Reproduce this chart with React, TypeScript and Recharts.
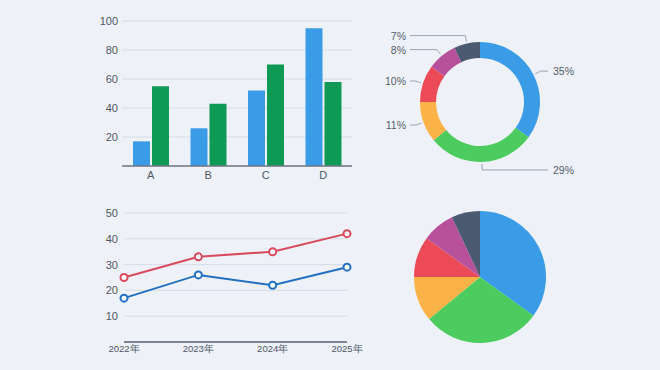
import React from "react";
import {
  BarChart,
  Bar,
  LineChart,
  Line,
  PieChart,
  Pie,
  Cell,
  XAxis,
  YAxis,
  CartesianGrid,
} from "recharts";

const barCategories = ["A", "B", "C", "D"];
const barBlue = [17, 26, 52, 95];
const barGreen = [55, 43, 70, 58];
const barTicks = [20, 40, 60, 80, 100];

const years = ["2022年", "2023年", "2024年", "2025年"];
const lineRed = [25, 33, 35, 42];
const lineBlue = [17, 26, 22, 29];
const lineTicks = [10, 20, 30, 40, 50];

const shareNames = ["blue", "green", "orange", "red", "purple", "slate"];
const shareValues = [35, 29, 11, 10, 8, 7];
const shareColors = ["#3a9be6", "#4ccb5f", "#fbb347", "#ec4a56", "#b8519c", "#4b5a70"];

const barData = barCategories.map((c, i) => ({ c, blue: barBlue[i], green: barGreen[i] }));
const lineData = years.map((y, i) => ({ y, red: lineRed[i], blue: lineBlue[i] }));
const pieData = shareNames.map((n, i) => ({ n, v: shareValues[i] }));

const FONT = "'Liberation Sans', Arial, sans-serif";
const tickStyle = { fill: "#505867", fontSize: 11, fontFamily: FONT };
const RAD = Math.PI / 180;

// leader line + percentage for the donut
function donutLabel(props: any) {
  const { cx, cy, midAngle, outerRadius, value, index } = props;
  const cos = Math.cos(-midAngle * RAD);
  const sin = Math.sin(-midAngle * RAD);
  const sx = cx + (outerRadius + 2) * cos;
  const sy = cy + (outerRadius + 2) * sin;
  const ex = cx + (outerRadius + 8) * cos;
  const ey = cy + (outerRadius + 8) * sin;
  const right = cos >= 0;
  const tx = right ? cx + 68 : cx - 70;
  return (
    <g key={"lbl" + index}>
      <polyline
        points={`${sx},${sy} ${ex},${ey} ${tx},${ey}`}
        fill="none"
        stroke="#9aa5b4"
        strokeWidth={1}
      />
      <text
        x={right ? tx + 5 : tx - 4}
        y={ey}
        dy={4}
        textAnchor={right ? "start" : "end"}
        fill="#555d6a"
        fontSize={10.5}
        fontFamily={FONT}
      >
        {value}%
      </text>
    </g>
  );
}

export default function App() {
  return (
    <div
      style={{
        position: "fixed",
        left: 0,
        top: 0,
        width: 660,
        height: 370,
        background: "#eef1f7",
        overflow: "hidden",
        fontFamily: FONT,
      }}
    >
      <div style={{ position: "absolute", left: 0, top: 0 }}>
        <BarChart
          width={370}
          height={190}
          data={barData}
          margin={{ top: 21, right: 18, bottom: 0, left: 0 }}
          barSize={17}
          barGap={2}
        >
          <CartesianGrid vertical={false} stroke="#d6dde8" />
          <XAxis
            dataKey="c"
            height={24}
            tickLine={false}
            axisLine={{ stroke: "#6f7785", strokeWidth: 1.5 }}
            tick={tickStyle}
            tickMargin={-1}
          />
          <YAxis
            width={122}
            domain={[0, 100]}
            ticks={barTicks}
            axisLine={false}
            tickLine={false}
            tick={tickStyle}
            tickMargin={-2}
          />
          <Bar dataKey="blue" fill="#3a9be6" isAnimationActive={false} />
          <Bar dataKey="green" fill="#0e9a55" isAnimationActive={false} />
        </BarChart>
      </div>

      <div style={{ position: "absolute", left: 0, top: 190 }}>
        <LineChart
          width={370}
          height={180}
          data={lineData}
          margin={{ top: 23, right: 23, bottom: 0, left: 0 }}
        >
          <CartesianGrid vertical={false} stroke="#d6dde8" />
          <XAxis
            dataKey="y"
            height={28}
            tickLine={false}
            axisLine={{ stroke: "#7c8493", strokeWidth: 2 }}
            tick={{ ...tickStyle, fontSize: 9.5 }}
            tickMargin={-3}
          />
          <YAxis
            width={124}
            domain={[0, 50]}
            ticks={lineTicks}
            axisLine={false}
            tickLine={false}
            tick={tickStyle}
            tickMargin={0}
          />
          <Line
            dataKey="red"
            stroke="#d84a5b"
            strokeWidth={2}
            dot={{ r: 3.5, fill: "#ffffff", stroke: "#d84a5b", strokeWidth: 2 }}
            isAnimationActive={false}
          />
          <Line
            dataKey="blue"
            stroke="#2270c2"
            strokeWidth={2}
            dot={{ r: 3.5, fill: "#ffffff", stroke: "#2270c2", strokeWidth: 2 }}
            isAnimationActive={false}
          />
        </LineChart>
      </div>

      <div style={{ position: "absolute", left: 370, top: 0 }}>
        <PieChart width={290} height={200} margin={{ top: 0, right: 0, bottom: 0, left: 0 }}>
          <Pie
            data={pieData}
            dataKey="v"
            nameKey="n"
            cx={110}
            cy={102}
            innerRadius={44}
            outerRadius={60}
            startAngle={90}
            endAngle={-270}
            stroke="none"
            label={donutLabel}
            labelLine={false}
            isAnimationActive={false}
          >
            {pieData.map((d, i) => (
              <Cell key={d.n} fill={shareColors[i]} />
            ))}
          </Pie>
        </PieChart>
      </div>

      <div style={{ position: "absolute", left: 370, top: 200 }}>
        <PieChart width={290} height={170} margin={{ top: 0, right: 0, bottom: 0, left: 0 }}>
          <Pie
            data={pieData}
            dataKey="v"
            nameKey="n"
            cx={110}
            cy={77}
            outerRadius={66}
            startAngle={90}
            endAngle={-270}
            stroke="none"
            isAnimationActive={false}
          >
            {pieData.map((d, i) => (
              <Cell key={d.n} fill={shareColors[i]} />
            ))}
          </Pie>
        </PieChart>
      </div>
    </div>
  );
}
